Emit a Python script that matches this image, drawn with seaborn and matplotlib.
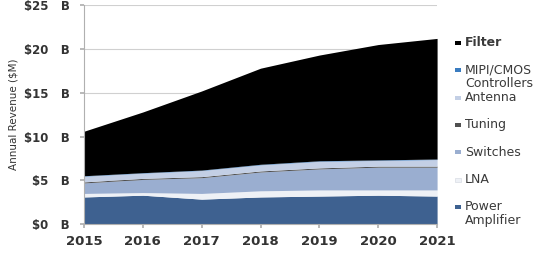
import matplotlib
matplotlib.use("Agg")
import matplotlib.pyplot as plt
import seaborn as sns
import numpy as np
from matplotlib.patches import Rectangle

years = [2015, 2016, 2017, 2018, 2019, 2020, 2021]
power_amplifier = [3.1, 3.3, 2.85, 3.1, 3.2, 3.3, 3.2]
lna = [0.4, 0.3, 0.65, 0.7, 0.7, 0.6, 0.7]
switches = [1.2, 1.5, 1.8, 2.15, 2.4, 2.6, 2.6]
tuning = [0.12, 0.12, 0.12, 0.12, 0.12, 0.12, 0.12]
antenna = [0.65, 0.6, 0.7, 0.7, 0.75, 0.65, 0.75]
mipi = [0.05, 0.05, 0.05, 0.06, 0.06, 0.06, 0.06]
filt = [5.08, 6.93, 9.03, 10.97, 12.07, 13.17, 13.77]

series_names = ["Power\nAmplifier", "LNA", "Switches", "Tuning", "Antenna",
                "MIPI/CMOS\nControllers", "Filter"]
colors = ["#3e6190", "#eef1f6", "#9aaed0", "#505050", "#c3cfe5", "#3a7cc0", "#000000"]
tick_vals = [0, 5, 10, 15, 20, 25]
tick_labels = ["$0   B", "$5   B", "$10   B", "$15   B", "$20   B", "$25   B"]

sns.set_theme(style="white")
plt.rcParams['font.family'] = ['DejaVu Sans']

W, H = 545, 270
fig = plt.figure(figsize=(5.45, 2.7), dpi=100)
ax = fig.add_axes([0.154, 0.170, 0.648, 0.811])

ax.stackplot(years, power_amplifier, lna, switches, tuning, antenna, mipi, filt,
             colors=colors, linewidth=0, zorder=2)

ax.set_xlim(2015, 2021)
ax.set_ylim(0, 25)
ax.set_yticks(tick_vals)
ax.set_yticklabels(tick_labels, fontsize=8.5, fontweight="bold", color="#333333")
ax.set_xticks(years)
ax.set_xticklabels([str(y) for y in years], fontsize=9.5, fontweight="bold", color="#333333")
ax.yaxis.grid(True, color="#d0d0d0", linewidth=0.8, zorder=0)
ax.xaxis.grid(False)
for s in ["top", "right"]:
    ax.spines[s].set_visible(False)
for s in ["left", "bottom"]:
    ax.spines[s].set_color("#b0b0b0")
    ax.spines[s].set_linewidth(0.8)
ax.tick_params(axis="y", length=3, color="#b0b0b0", direction="out", left=True, pad=7)
ax.tick_params(axis="x", length=3, color="#b0b0b0", direction="out", bottom=True, pad=5)
ax.set_ylabel("Annual Revenue ($M)", fontsize=7.5, color="#333333", labelpad=4)

# manual legend (Filter at top, Power Amplifier at bottom)
names_rev = series_names[::-1]
colors_rev = colors[::-1]
y0, dy = 43, 27.3
for i, (name, c) in enumerate(zip(names_rev, colors_rev)):
    yc = y0 + i * dy
    fig.patches.append(Rectangle((455 / W, 1 - (yc + 2) / H), 6 / W, 4 / H,
                                 transform=fig.transFigure, facecolor=c,
                                 edgecolor="#d8dce4" if c == "#eef1f6" else "none",
                                 linewidth=0.5))
    fig.text(465 / W, 1 - (yc - 6.5) / H, name, fontsize=9, va="top", ha="left",
             color="#3a3a3a", linespacing=1.05,
             fontweight="bold" if name == "Filter" else "normal")

fig.savefig("out.png", dpi=100)
